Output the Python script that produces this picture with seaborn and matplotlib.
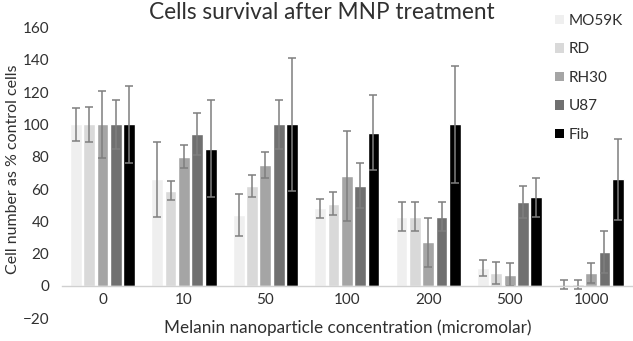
import matplotlib
matplotlib.use("Agg")
import matplotlib.pyplot as plt
import seaborn as sns
import pandas as pd
from matplotlib.patches import Patch

concentrations = ["0", "10", "50", "100", "200", "500", "1000"]
cell_lines = ["MO59K", "RD", "RH30", "U87", "Fib"]

mo59k = [100, 66, 44, 48, 43, 11, 1]
rd = [100, 59, 62, 51, 43, 8, 1]
rh30 = [100, 80, 75, 68, 27, 7, 8]
u87 = [100, 94, 100, 62, 43, 52, 21]
fib = [100, 85, 100, 95, 100, 55, 66]

mo59k_err = [10, 23, 13, 6, 9, 5, 3]
rd_err = [11, 6, 7, 7, 9, 7, 3]
rh30_err = [21, 7, 8, 28, 15, 7, 6]
u87_err = [15, 13, 15, 14, 9, 10, 13]
fib_err = [24, 30, 41, 23, 36, 12, 25]

colors = ["#efefef", "#d9d9d9", "#a5a5a5", "#707070", "#000000"]

values = [mo59k, rd, rh30, u87, fib]
errors = [mo59k_err, rd_err, rh30_err, u87_err, fib_err]

rows = []
for line, vals, errs in zip(cell_lines, values, errors):
    for c, v, e in zip(concentrations, vals, errs):
        rows.append({"conc": c, "line": line, "value": v, "err": e})
df = pd.DataFrame(rows)

sns.set_theme(style="white")
plt.rcParams["font.family"] = ["Lato", "DejaVu Sans"]

fig = plt.figure(figsize=(6.33, 3.41), dpi=100)
ax = fig.add_axes([0.0976, 0.0666, 0.9005, 0.8525])

sns.barplot(data=df, x="conc", y="value", hue="line", order=concentrations,
            hue_order=cell_lines, palette=colors, errorbar=None, width=0.82,
            gap=0.12, saturation=1, ax=ax, legend=False)

# error bars at the bar centres placed by seaborn
bars = list(ax.patches)
n = len(concentrations)
for i, (vals, errs) in enumerate(zip(values, errors)):
    group = bars[i * n:(i + 1) * n]
    xs = [p.get_x() + p.get_width() / 2 for p in group]
    ax.errorbar(xs, vals, yerr=errs, fmt="none", ecolor="#7f7f7f",
                elinewidth=1.1, capsize=3, capthick=1.1)

ax.set_ylim(-20, 160)
ax.set_xlim(-0.5, 6.5)
ax.set_yticks(range(-20, 161, 20))
for s in ax.spines.values():
    s.set_visible(False)
ax.spines["bottom"].set_visible(True)
ax.spines["bottom"].set_position(("data", 0))
ax.spines["bottom"].set_color("#d0d0d0")
ax.spines["bottom"].set_linewidth(1)
ax.tick_params(axis="both", length=0, labelsize=11, colors="#303030")
ax.tick_params(axis="y", pad=9)
ax.tick_params(axis="x", pad=5)
ax.set_xlabel("")
ax.set_ylabel("")

fig.text(0.021, 0.505, "Cell number as % control cells", rotation=90,
         ha="center", va="center", fontsize=11.5, color="#303030")
fig.text(0.55, 0.04, "Melanin nanoparticle concentration (micromolar)",
         ha="center", va="center", fontsize=12.3, color="#303030")
fig.text(0.509, 0.962, "Cells survival after MNP treatment", ha="center",
         va="center", fontsize=16.3, color="#303030")

handles = [Patch(facecolor=c, edgecolor="none", label=l)
           for c, l in zip(colors, cell_lines)]
fig.legend(handles=handles, loc="upper left", bbox_to_anchor=(0.855, 1.0),
           frameon=False, fontsize=11, handlelength=0.6, handleheight=0.6,
           handletextpad=0.3, labelspacing=0.95, labelcolor="#303030")

fig.savefig("out.png", dpi=100)
